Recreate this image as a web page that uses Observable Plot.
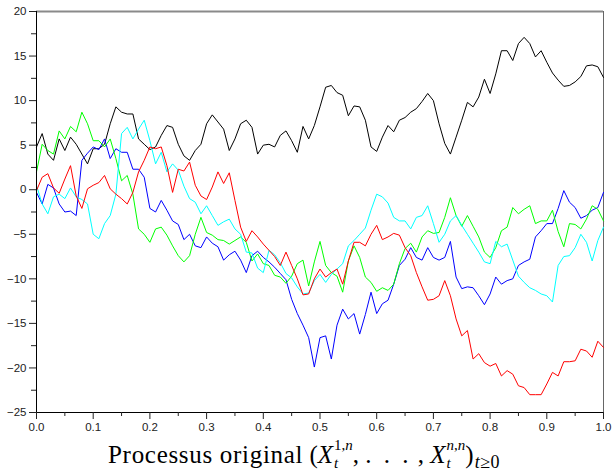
<!DOCTYPE html>
<html>
<head>
<meta charset="utf-8">
<script src="https://cdn.jsdelivr.net/npm/d3@7"></script>
<script src="https://cdn.jsdelivr.net/npm/@observablehq/plot@0.6"></script>
<style>
  html, body { margin: 0; padding: 0; background: #fff; }
  #wrap { position: relative; width: 614px; height: 471px; overflow: hidden; }
  #wrap svg { display: block; }
  #cap { position: absolute; left: 108px; top: 436px; text-align: left;
         font-family: "Liberation Serif", "Times New Roman", serif; font-size: 25px; color: #000;
         line-height: 30px; white-space: nowrap; }
  #cap .w { letter-spacing: 0.7px; }
  .ss { display: inline-block; font-size: 15px; line-height: 18px; vertical-align: -5px; text-align: left; margin-left: 1px; }
  .ss span { display: block; }
  .sb { font-size: 18px; vertical-align: -5px; margin-left: 1px; letter-spacing: 0.5px; }
  .dots { letter-spacing: 3px; }
</style>
</head>
<body>
<div id="wrap"></div>
<script>
// sampling times
const t = [
  0.00,0.01,0.02,0.03,0.04,0.05,0.06,0.07,0.08,0.09,
  0.10,0.11,0.12,0.13,0.14,0.15,0.16,0.17,0.18,0.19,
  0.20,0.21,0.22,0.23,0.24,0.25,0.26,0.27,0.28,0.29,
  0.30,0.31,0.32,0.33,0.34,0.35,0.36,0.37,0.38,0.39,
  0.40,0.41,0.42,0.43,0.44,0.45,0.46,0.47,0.48,0.49,
  0.50,0.51,0.52,0.53,0.54,0.55,0.56,0.57,0.58,0.59,
  0.60,0.61,0.62,0.63,0.64,0.65,0.66,0.67,0.68,0.69,
  0.70,0.71,0.72,0.73,0.74,0.75,0.76,0.77,0.78,0.79,
  0.80,0.81,0.82,0.83,0.84,0.85,0.86,0.87,0.88,0.89,
  0.90,0.91,0.92,0.93,0.94,0.95,0.96,0.97,0.98,0.99,1.00
];
const black = [
  4.8,6.3,4.0,3.3,5.7,4.4,5.9,5.1,4.0,2.9,
  4.6,4.6,5.1,7.4,9.3,8.7,8.5,8.5,5.7,5.1,
  4.5,4.8,6.1,7.2,7.0,5.1,3.8,3.3,4.4,5.1,
  7.4,8.4,7.6,6.8,4.4,5.7,7.4,7.8,7.0,4.0,
  5.0,5.1,4.8,6.1,6.6,5.5,4.2,7.1,5.7,7.2,
  9.3,11.5,11.7,10.9,10.6,8.3,9.4,9.3,7.8,4.8,
  4.3,5.9,7.2,6.5,7.8,8.1,8.7,9.1,9.9,10.8,
  10.0,7.4,5.2,4.0,5.9,7.8,9.8,9.3,10.4,12.4,
  10.8,13.0,15.6,15.6,14.5,16.4,17.1,16.4,14.9,15.6,
  14.3,13.1,12.3,11.6,11.7,12.1,12.7,13.9,14.0,13.8,12.6
];
const blue = [
  -0.3,-1.6,0.6,0.2,-1.6,-2.5,-2.4,-2.9,3.3,4.1,
  4.8,4.5,5.7,3.5,4.6,4.2,4.2,2.3,2.3,1.4,
  -2.1,-2.5,-1.2,-2.3,-3.5,-3.9,-5.6,-5.0,-6.3,-6.5,
  -5.3,-6.0,-6.4,-7.9,-7.3,-6.9,-7.9,-9.3,-7.4,-6.9,
  -7.6,-8.1,-8.7,-9.4,-10.1,-12.3,-13.9,-15.2,-16.6,-19.9,
  -16.6,-16.4,-19.0,-15.2,-13.4,-14.5,-13.9,-16.2,-14.0,-11.5,
  -13.9,-12.8,-12.4,-10.6,-8.5,-7.8,-6.5,-7.6,-7.9,-6.5,
  -7.6,-7.9,-7.6,-5.8,-9.8,-11.1,-10.9,-11.0,-11.9,-12.9,
  -11.7,-9.8,-10.6,-10.2,-10.0,-8.5,-8.1,-7.8,-5.3,-4.6,
  -3.8,-3.8,-2.1,-0.1,-1.4,-2.0,-3.2,-2.9,-2.3,-2.0,-0.3
];
const green = [
  2.0,5.1,4.4,4.0,6.6,5.7,7.1,6.5,8.7,7.4,
  5.5,5.5,4.8,5.7,3.5,1.0,1.6,-0.5,-4.4,-5.0,
  -5.9,-4.4,-4.2,-5.1,-6.3,-7.4,-8.1,-7.4,-5.0,-3.1,
  -4.8,-5.1,-5.6,-5.7,-6.1,-5.7,-5.3,-5.9,-8.0,-7.2,
  -8.3,-8.5,-9.6,-9.8,-10.5,-9.7,-8.3,-7.9,-10.8,-8.1,
  -5.8,-8.5,-9.3,-9.7,-11.5,-8.0,-6.3,-7.6,-9.8,-10.4,
  -11.4,-11.0,-11.3,-10.6,-8.3,-6.6,-6.0,-7.0,-5.3,-4.6,
  -4.9,-4.8,-3.1,-0.9,-2.9,-4.1,-2.9,-4.1,-5.3,-7.0,
  -7.6,-6.5,-4.6,-4.2,-2.0,-2.7,-2.2,-1.8,-3.8,-3.5,
  -3.5,-2.3,-4.7,-6.4,-3.8,-3.9,-4.4,-3.3,-1.8,-2.2,-3.5
];
const cyan = [
  0.5,-1.6,-2.7,-0.8,-0.5,-1.0,0.2,-0.8,-1.1,-1.6,
  -5.0,-5.5,-3.8,-2.9,-0.5,6.3,7.0,5.7,6.8,7.8,
  5.5,2.9,4.2,2.0,2.9,2.2,0.4,-1.0,-1.4,-2.7,
  -1.8,-2.9,-4.0,-3.6,-3.3,-4.4,-5.0,-7.0,-7.1,-8.8,
  -9.3,-6.8,-7.3,-8.2,-9.4,-9.9,-10.9,-11.7,-11.6,-10.2,
  -9.5,-10.4,-9.5,-8.9,-8.3,-6.3,-5.7,-5.0,-4.3,-2.3,
  -0.5,-0.8,-1.5,-3.1,-3.5,-3.5,-4.4,-3.1,-2.9,-1.8,
  -3.8,-5.9,-5.0,-3.5,-2.9,-4.0,-5.0,-6.0,-7.0,-8.1,
  -8.3,-5.8,-6.4,-6.1,-7.9,-9.7,-10.4,-11.0,-11.3,-11.7,
  -11.9,-12.6,-8.5,-7.5,-7.4,-6.5,-5.0,-5.9,-8.0,-5.7,-4.2
];
const red = [
  -0.1,1.4,1.8,0.2,-0.4,1.2,2.7,-0.7,-2.1,0.1,
  0.5,0.8,1.6,0.1,-0.5,-1.0,-1.6,-0.3,2.0,3.3,
  4.8,4.6,4.8,2.7,-0.3,2.3,2.1,3.1,0.5,-0.7,
  -1.1,0.3,2.0,0.7,1.9,-1.2,-4.2,-5.8,-4.6,-5.3,
  -6.1,-6.8,-7.5,-8.5,-7.0,-8.5,-10.0,-11.8,-11.7,-10.0,
  -8.9,-9.8,-9.3,-8.9,-10.6,-8.0,-5.9,-5.9,-6.3,-5.0,
  -4.0,-5.6,-5.3,-4.9,-5.1,-6.5,-7.4,-9.3,-10.9,-12.4,
  -12.3,-11.9,-10.2,-11.9,-14.5,-16.4,-15.8,-19.0,-18.4,-19.4,
  -19.8,-19.5,-20.9,-20.3,-20.7,-22.0,-22.2,-23.0,-23.0,-23.0,
  -21.8,-20.5,-20.9,-19.3,-19.3,-19.2,-17.9,-18.1,-18.8,-17.0,-17.7
];
const seriesColors = ["#000000", "#0000ff", "#00ff00", "#00ffff", "#ff0000"];
const xTicks = [0, 0.1, 0.2, 0.3, 0.4, 0.5, 0.6, 0.7, 0.8, 0.9, 1.0];
const xMinorTicks = [0.05, 0.15, 0.25, 0.35, 0.45, 0.55, 0.65, 0.75, 0.85, 0.95];
const yTicks = [-25, -20, -15, -10, -5, 0, 5, 10, 15, 20];
const yMinorTicks = [-22.5, -17.5, -12.5, -7.5, -2.5, 2.5, 7.5, 12.5, 17.5];

const seriesValues = [black, blue, green, cyan, red];
const lineMarks = seriesValues.map((vals, k) =>
  Plot.line(vals.map((v, i) => ({t: t[i], v})), {x: "t", y: "v", stroke: seriesColors[k], strokeWidth: 1}));

const chart = Plot.plot({
  width: 614,
  height: 438,
  marginLeft: 36,
  marginRight: 11,
  marginTop: 11,
  marginBottom: 26,
  x: {domain: [0, 1]},
  y: {domain: [-25, 20]},
  style: {fontFamily: "'Liberation Sans', Arial, sans-serif", fontSize: "11.5px", color: "#222", background: "#fff"},
  marks: [
    Plot.ruleY([20], {stroke: "#8a8a8a", strokeWidth: 2}),
    Plot.ruleX([1], {stroke: "#666"}),
    ...lineMarks,
    Plot.ruleX([0], {stroke: "#000"}),
    Plot.ruleY([-25], {stroke: "#000"}),
    Plot.axisY(yTicks, {anchor: "left", tickSize: 7, tickPadding: 3, tickFormat: d3.format(""), label: null}),
    Plot.axisY(yMinorTicks, {anchor: "left", tickSize: 5, tickFormat: () => "", label: null}),
    Plot.axisX(xTicks, {anchor: "bottom", tickSize: 7, tickPadding: 3, tickFormat: d3.format(".1f"), label: null}),
    Plot.axisX(xMinorTicks, {anchor: "bottom", tickSize: 4, tickFormat: () => "", label: null})
  ]
});

const wrap = document.getElementById("wrap");
wrap.appendChild(chart);
const cap = document.createElement("div");
cap.id = "cap";
cap.innerHTML = '<span class="w">Processus original</span> (<i>X</i><span class="ss"><span>1,<i>n</i></span><span><i>t</i></span></span>, <span class="dots">. . .</span> , <i>X</i><span class="ss"><span><i>n</i>,<i>n</i></span><span><i>t</i></span></span>)<span class="sb"><i>t</i>≥0</span>';
wrap.appendChild(cap);
</script>
</body>
</html>
